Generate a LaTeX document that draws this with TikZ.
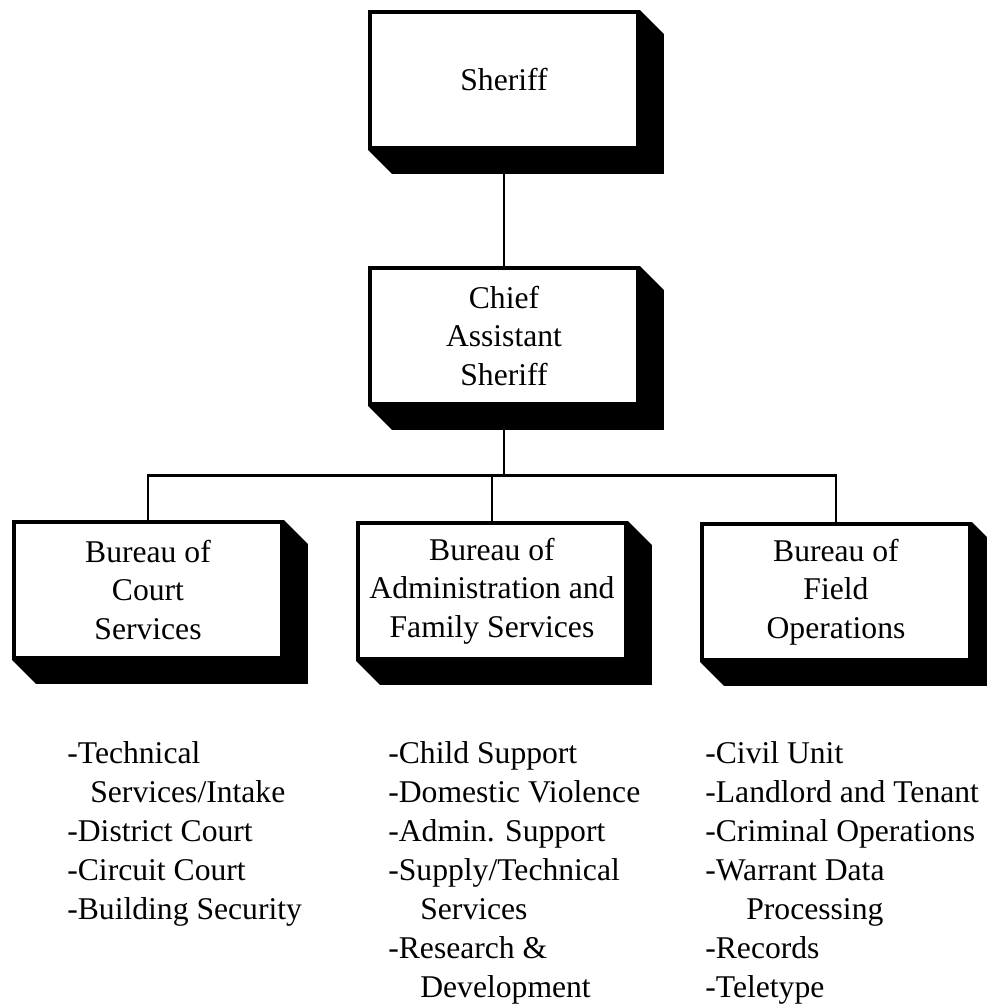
\documentclass[tikz,border=0pt]{standalone}
\usepackage{fontspec}
\setmainfont{Liberation Serif}
\usetikzlibrary{positioning,calc}
\tikzset{>=latex}
\tikzset{unit/.style={draw,line width=2.2pt,fill=white,minimum width=5.36cm,
    minimum height=2.72cm,align=center,inner sep=0pt,
    font=\fontsize{18}{22}\selectfont},
  tasks/.style={anchor=north west,align=left,inner sep=0pt,
    font=\fontsize{18}{22.2}\selectfont},
  link/.style={line width=1.7pt}}

\begin{document}
\begin{tikzpicture}
    \def\d{0.48}
    \useasboundingbox (0,0) rectangle (19.74,20.08);
    \node [unit] (sheriff) at (10.08,18.48) {Sheriff};
    \node [unit] (chief) at (10.08,13.36) {Chief\\Assistant\\Sheriff};
    \node [unit] (court) at (2.96,8.28) {Bureau of\\Court\\Services};
    \node [unit] (admin) at (9.84,8.26) {Bureau of\\Administration and\\Family Services};
    \node [unit] (field) at (16.72,8.24) {Bureau of\\Field\\Operations};
    \foreach \n in {sheriff,chief,court,admin,field}
      \fill (\n.north east) -- ++(\d,-\d) -- ($(\n.south east)+(\d,-\d)$)
      -- ($(\n.south west)+(\d,-\d)$) -- (\n.south west) -- (\n.south east) -- cycle;
    \draw [link] (sheriff) -- (chief);
    \draw [link] (chief.south) -- ++(0,-1.4) coordinate (bus);
    \draw [link] (court.north) |- (bus) -| (field.north);
    \draw [link] (admin.north) -- (admin.north |- bus);
    \node [tasks] (courtlist) at (1.34,5.26) {-Technical\\\hspace*{0.46cm}Services/Intake\\
      -District Court\\-Circuit Court\\-Building Security};
    \node [tasks] (adminlist) at (7.76,5.26) {-Child Support\\-Domestic Violence\\
      -Admin. Support\\-Supply/Technical\\\hspace*{0.64cm}Services\\-Research \&\\
      \hspace*{0.64cm}Development};
    \node [tasks] (fieldlist) at (14.1,5.26) {-Civil Unit\\-Landlord and Tenant\\
      -Criminal Operations\\-Warrant Data\\\hspace*{0.82cm}Processing\\-Records\\-Teletype};
  \end{tikzpicture}
\end{document}
